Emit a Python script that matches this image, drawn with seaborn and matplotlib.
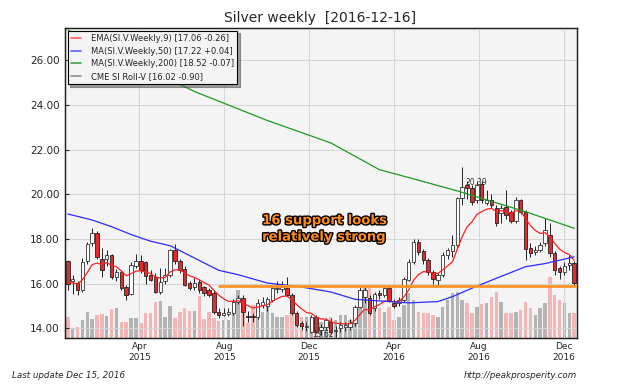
import numpy as np
import pandas as pd
import matplotlib
matplotlib.use("Agg")
import matplotlib.pyplot as plt
import matplotlib.dates as mdates
import matplotlib.patheffects as pe
from matplotlib.lines import Line2D
from matplotlib.ticker import MultipleLocator, FormatStrFormatter
import seaborn as sns

# weekly candles, first week ending 2014-12-19
first_week = "2014-12-19"

opens = [17.00, 16.10, 16.02, 15.72, 17.00, 17.80, 18.25, 17.10, 17.10, 17.28,
         16.30, 16.54, 15.87, 15.55, 16.80, 17.00, 16.95, 16.40, 16.30, 15.64,
         16.10, 16.39, 17.50, 17.00, 16.65, 16.02, 15.87, 16.09, 15.84, 15.72,
         15.60, 14.75, 14.62, 14.65, 14.70, 15.20, 15.35, 14.55, 14.55, 14.52,
         15.05, 15.00, 15.27, 15.75, 15.78, 15.82, 15.50, 14.68, 14.23, 14.07,
         13.85, 14.52, 13.93, 14.08, 14.30, 13.90, 14.00, 14.05, 14.08, 14.23,
         14.97, 15.42, 15.35, 14.90, 15.57, 15.50, 15.80, 15.12, 15.12, 15.27,
         16.17, 16.98, 17.88, 17.45, 17.06, 16.54, 16.17, 16.39, 17.28, 17.45,
         17.73, 19.82, 20.42, 20.27, 19.74, 20.45, 19.62, 19.74, 19.40, 19.15,
         19.45, 19.20, 18.80, 19.74, 19.22, 17.60, 17.43, 17.50, 17.80, 18.20,
         17.36, 16.70, 16.54, 16.82, 16.92]
highs = [17.05, 16.40, 16.10, 17.15, 17.85, 18.50, 18.35, 17.60, 17.50, 17.35,
         16.65, 16.60, 15.95, 16.95, 17.35, 17.30, 17.00, 16.60, 16.50, 16.70,
         16.70, 17.55, 17.77, 17.10, 16.80, 16.10, 16.30, 16.20, 15.90, 15.80,
         15.70, 14.90, 14.90, 14.90, 15.30, 15.50, 15.50, 14.80, 14.70, 15.30,
         15.40, 15.40, 15.90, 16.10, 16.10, 16.30, 15.60, 14.80, 14.35, 14.30,
         14.60, 14.60, 14.20, 14.45, 14.45, 14.10, 14.30, 14.30, 14.40, 15.05,
         15.85, 15.90, 15.50, 15.65, 15.70, 15.95, 15.90, 15.30, 15.40, 16.30,
         17.10, 18.00, 18.00, 17.55, 17.15, 16.60, 16.50, 17.40, 17.60, 18.20,
         19.90, 21.20, 20.60, 20.40, 20.60, 20.60, 20.20, 20.00, 19.50, 19.50,
         20.20, 19.30, 19.90, 19.80, 19.30, 17.80, 17.70, 17.85, 18.95, 18.70,
         17.45, 16.80, 16.95, 17.30, 17.00]
lows = [15.70, 15.55, 15.50, 15.65, 16.90, 17.70, 17.10, 16.30, 16.80, 16.20,
        16.10, 15.70, 15.27, 15.50, 16.70, 16.50, 16.00, 16.10, 15.60, 15.55,
        16.00, 16.30, 16.90, 16.50, 15.90, 15.70, 15.70, 15.60, 15.45, 15.40,
        14.65, 14.45, 14.55, 14.55, 14.60, 15.10, 14.10, 14.30, 14.30, 14.40,
        14.90, 14.80, 15.20, 15.60, 15.65, 15.45, 14.60, 14.05, 13.95, 13.90,
        13.80, 13.80, 13.70, 13.95, 13.75, 13.62, 13.85, 13.90, 13.95, 14.10,
        14.90, 15.15, 14.60, 14.80, 15.30, 15.40, 15.20, 14.90, 15.00, 15.20,
        16.10, 16.90, 17.30, 16.90, 16.40, 16.00, 15.87, 16.30, 17.10, 17.20,
        17.60, 19.50, 19.80, 19.50, 19.60, 19.60, 19.50, 19.40, 18.60, 18.70,
        18.90, 18.70, 18.70, 19.10, 17.05, 17.20, 17.30, 17.40, 17.70, 17.20,
        16.40, 16.20, 16.40, 16.60, 15.95]
closes = [16.00, 16.20, 15.72, 16.98, 17.78, 18.27, 17.20, 16.60, 17.28, 16.30,
          16.54, 15.80, 15.50, 16.84, 17.00, 16.62, 16.35, 16.17, 15.65, 16.09,
          16.39, 17.50, 17.00, 16.62, 15.95, 15.80, 16.02, 15.72, 15.57, 15.50,
          14.75, 14.60, 14.70, 14.75, 15.20, 15.35, 14.75, 14.52, 14.50, 15.12,
          15.20, 15.30, 15.80, 15.82, 15.83, 15.50, 14.68, 14.15, 14.10, 14.08,
          14.52, 13.85, 14.08, 14.38, 13.85, 13.95, 14.15, 14.15, 14.23, 14.97,
          15.72, 15.72, 14.68, 15.55, 15.50, 15.80, 15.27, 15.02, 15.27, 16.20,
          16.98, 17.88, 17.43, 17.06, 16.54, 16.20, 16.39, 17.28, 17.50, 17.73,
          19.82, 20.34, 20.27, 19.67, 20.42, 19.75, 19.74, 19.52, 18.70, 19.40,
          19.07, 18.80, 19.74, 19.22, 17.55, 17.36, 17.50, 17.73, 18.40, 17.36,
          16.61, 16.54, 16.80, 16.92, 16.02]
volume = [21, 9, 11, 18, 26, 19, 23, 24, 22, 29, 30, 16, 16, 20, 20, 15, 25, 25, 36, 37,
          21, 32, 20, 26, 30, 27, 27, 42, 19, 26, 20, 17, 18, 18, 30, 48, 38, 15, 33, 20,
          26, 35, 25, 21, 21, 23, 26, 21, 21, 21, 21, 18, 16, 15, 21, 18, 23, 23, 18, 15,
          48, 50, 50, 40, 30, 26, 31, 18, 21, 33, 45, 38, 26, 25, 25, 23, 21, 31, 38, 45,
          46, 38, 35, 25, 31, 34, 35, 41, 46, 36, 25, 25, 26, 28, 36, 30, 23, 30, 35, 61,
          43, 38, 35, 25, 25]

# moving averages (week index, value)
ma50_week = [0, 5, 9, 13, 17, 21, 26, 31, 35, 41, 48, 54, 59, 66, 70, 76, 79, 83, 88, 94, 98, 104]
ma50_val = [19.12, 18.85, 18.55, 18.20, 17.90, 17.70, 17.15, 16.60, 16.40, 16.03, 15.85,
            15.63, 15.30, 15.20, 15.14, 15.20, 15.42, 15.80, 16.24, 16.76, 16.90, 17.20]
ma200_week = [0, 26, 32, 41, 54, 64, 70, 80, 88, 94, 104]
ma200_val = [27.35, 24.60, 24.08, 23.30, 22.30, 21.10, 20.75, 20.15, 19.62, 19.22, 18.48]

support_level = 15.91
support_start = 31
high_label_week = 81
high_label = 20.39

sns.set_style("whitegrid", {"axes.facecolor": "#f4f4f4", "grid.color": "#d6d6d6",
                            "axes.edgecolor": "#222222"})
plt.rcParams['font.family'] = ['DejaVu Sans']

df = pd.DataFrame({"date": pd.date_range(first_week, periods=len(closes), freq="7D"),
                   "open": opens, "high": highs, "low": lows, "close": closes,
                   "volume": volume})
df["ema9"] = df["close"].ewm(span=9, adjust=False).mean()
up = df["close"] >= df["open"]

fig = plt.figure(figsize=(6.4, 3.84), dpi=100)
ax = fig.add_axes([65 / 640, 1 - 338 / 384, 512 / 640, 310 / 384])
ax_vol = ax.twinx()
ax.set_zorder(ax_vol.get_zorder() + 1)
ax.patch.set_visible(False)
ax_vol.patch.set_visible(True)
ax_vol.set_facecolor("#f4f4f4")

# volume
vol_colors = np.where(up, "#b3b3b3", "#f3b5b5")
ax_vol.bar(df["date"], df["volume"], width=5, color=vol_colors, linewidth=0)
ax_vol.set_ylim(0, 310)
ax_vol.set_yticks([])
ax_vol.grid(False)

# candles
ax.vlines(df["date"], df["low"], df["high"], color="#222222", lw=0.7, zorder=2)
body = (df["close"] - df["open"]).abs().clip(lower=0.03)
bottom = df[["open", "close"]].min(axis=1)
ax.bar(df["date"][up], body[up], bottom=bottom[up], width=5, color="white",
       edgecolor="#333333", linewidth=0.6, zorder=3)
ax.bar(df["date"][~up], body[~up], bottom=bottom[~up], width=5, color="#e8282b",
       edgecolor="#222222", linewidth=0.6, zorder=3)

# averages
sns.lineplot(x=df["date"], y=df["ema9"], ax=ax, color="#ff2020", lw=0.9, zorder=4)
sns.lineplot(x=df["date"][ma50_week], y=ma50_val, ax=ax, color="#2b2bff", lw=0.9, zorder=4)
sns.lineplot(x=df["date"][ma200_week], y=ma200_val, ax=ax, color="#1f9a1f", lw=0.9, zorder=4)

x_left = df["date"].iloc[0] - pd.Timedelta(days=4)
x_right = df["date"].iloc[-1] + pd.Timedelta(days=4)
ax.plot([df["date"].iloc[support_start], x_right], [support_level, support_level],
        color="#ff9326", lw=2.0, zorder=5)

ax.set_xlim(x_left, x_right)
ax.set_ylim(13.57, 27.44)
ax.yaxis.set_major_locator(MultipleLocator(2))
ax.yaxis.set_major_formatter(FormatStrFormatter("%.2f"))
ax.xaxis.set_major_locator(mdates.MonthLocator(bymonth=[4, 8, 12]))
ax.xaxis.set_major_formatter(mdates.DateFormatter("%b\n%Y"))
ax.tick_params(axis="y", labelsize=7.5, length=3, direction="in", pad=4)
ax.tick_params(axis="x", labelsize=6.5, length=3, direction="in", pad=3)
ax.set_xlabel("")
ax.set_ylabel("")
ax.grid(True, color="#d6d6d6", lw=0.8)
for s in ax_vol.spines.values():
    s.set_color("#222222")
    s.set_linewidth(1.0)

# price labels
ax.text(df["date"].iloc[high_label_week] + pd.Timedelta(days=4), 20.52, "%.2f" % high_label,
        fontsize=5.5, color="#333333", va="center", zorder=6)
lo_i = int(np.argmin(lows))
ax.text(df["date"].iloc[lo_i] - pd.Timedelta(days=33), 13.72, "%.2f" % min(lows),
        fontsize=5.5, color="#333333", va="center", zorder=6)

ax.text(0.385, 0.352, "16 support looks\nrelatively strong", transform=ax.transAxes,
        fontsize=9.5, fontweight="bold", color="#ff8c1a", va="center", ha="left",
        linespacing=1.35, zorder=7,
        path_effects=[pe.withStroke(linewidth=2.0, foreground="black")])

handles = [Line2D([], [], color="#ff6060", lw=1.2),
           Line2D([], [], color="#6060ff", lw=1.2),
           Line2D([], [], color="#40a040", lw=1.2),
           Line2D([], [], color="#909090", lw=1.2)]
labels = ["EMA(SI.V.Weekly,9) [17.06 -0.26]",
          "MA(SI.V.Weekly,50) [17.22 +0.04]",
          "MA(SI.V.Weekly,200) [18.52 -0.07]",
          "CME SI Roll-V [16.02 -0.90]"]
leg = ax.legend(handles, labels, loc="upper left", fontsize=6, frameon=True,
                fancybox=False, shadow=True, edgecolor="black", framealpha=1,
                handlelength=1.2, handletextpad=1.2, borderaxespad=0.3,
                labelspacing=0.45)
leg.get_frame().set_linewidth(0.8)
leg.set_zorder(10)

fig.text(0.5, 1 - 18 / 384, "Silver weekly  [2016-12-16]", ha="center", va="center",
         fontsize=10)
fig.text(12 / 640, 1 - 376 / 384, "Last update Dec 15, 2016", ha="left", va="center",
         fontsize=6.3, style="italic")
fig.text(577 / 640, 1 - 376 / 384, "http://peakprosperity.com", ha="right", va="center",
         fontsize=6.3, style="italic")

fig.savefig("out.png", dpi=100, facecolor="white")
